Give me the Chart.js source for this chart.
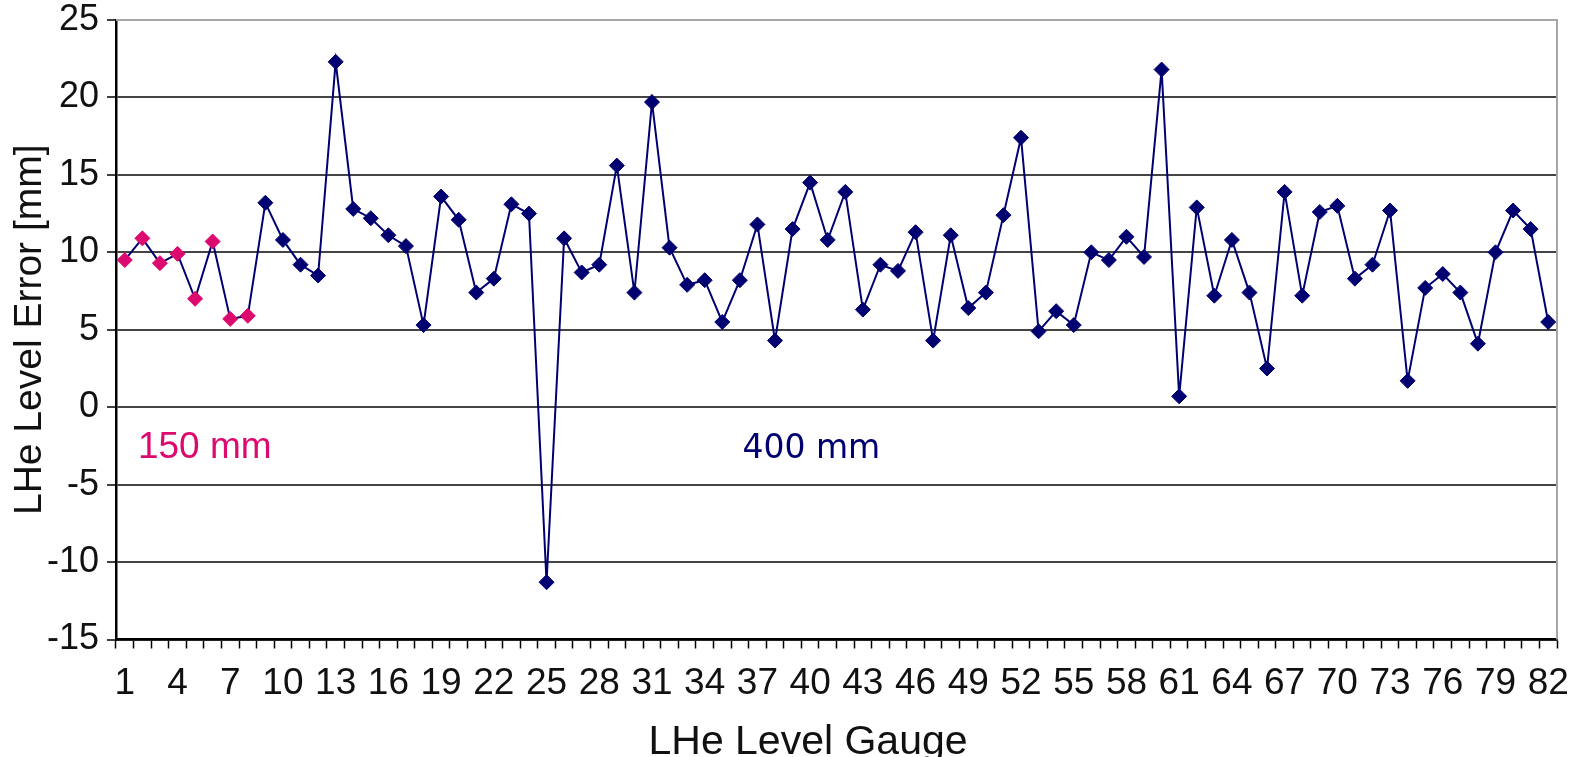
<!DOCTYPE html>
<html lang="en">
<head>
    <meta charset="UTF-8">
    <title>LHe Level Error</title>
    <script src="https://cdn.jsdelivr.net/npm/chart.js"></script>
    <style>
        html, body { margin: 0; padding: 0; background: #fff; overflow: hidden; }
        canvas { display: block; }
    </style>
</head>
<body>
    <canvas id="levelChart" width="1575" height="757"></canvas>

    <script>
        // gauge numbers on the x axis
        var gaugeIds = [
            1, 2, 3, 4, 5, 6, 7, 8, 9, 10, 11, 12, 13, 14, 15, 16, 17, 18, 19, 20,
            21, 22, 23, 24, 25, 26, 27, 28, 29, 30, 31, 32, 33, 34, 35, 36, 37, 38, 39, 40,
            41, 42, 43, 44, 45, 46, 47, 48, 49, 50, 51, 52, 53, 54, 55, 56, 57, 58, 59, 60,
            61, 62, 63, 64, 65, 66, 67, 68, 69, 70, 71, 72, 73, 74, 75, 76, 77, 78, 79, 80,
            81, 82
        ];

        // level error in mm, one value per gauge
        var levelError = [
            9.5, 10.9, 9.3, 9.9, 7.0, 10.7, 5.7, 5.9, 13.2, 10.8,
            9.2, 8.5, 22.3, 12.8, 12.2, 11.1, 10.4, 5.3, 13.6, 12.1,
            7.4, 8.3, 13.1, 12.5, -11.3, 10.9, 8.7, 9.2, 15.6, 7.4,
            19.7, 10.3, 7.9, 8.2, 5.5, 8.2, 11.8, 4.3, 11.5, 14.5,
            10.8, 13.9, 6.3, 9.2, 8.8, 11.3, 4.3, 11.1, 6.4, 7.4,
            12.4, 17.4, 4.9, 6.2, 5.3, 10.0, 9.5, 11.0, 9.7, 21.8,
            0.7, 12.9, 7.2, 10.8, 7.4, 2.5, 13.9, 7.2, 12.6, 13.0,
            8.3, 9.2, 12.7, 1.7, 7.7, 8.6, 7.4, 4.1, 10.0, 12.7,
            11.5, 5.5
        ];

        // the first gauges are the 150 mm type, the rest are 400 mm
        var gauge150Count = 8;

        var yTicks = [-15, -10, -5, 0, 5, 10, 15, 20, 25];

        var navy = '#000070';
        var pink = '#dc0a6e';

        var pointColors = levelError.map(function (v, i) {
            return i < gauge150Count ? pink : navy;
        });

        // labels written inside the plot
        var notes = [
            { text: '150 mm', x: 0.75, y: -3.3, color: pink, font: '37px "Liberation Sans", Arial, sans-serif' },
            { text: '400 mm', x: 35.15, y: -3.3, color: navy, font: '33px "DejaVu Sans", Verdana, sans-serif' }
        ];

        var notesPlugin = {
            id: 'notes',
            afterDatasetsDraw: function (chart) {
                var ctx = chart.ctx;
                var xs = chart.scales.x, ys = chart.scales.y;
                ctx.save();
                notes.forEach(function (n) {
                    ctx.font = n.font;
                    ctx.fillStyle = n.color;
                    ctx.textAlign = 'left';
                    ctx.textBaseline = 'alphabetic';
                    ctx.fillText(n.text, xs.getPixelForValue(n.x), ys.getPixelForValue(n.y));
                });
                ctx.restore();
            }
        };

        // gray frame on the right side of the plot
        var framePlugin = {
            id: 'frame',
            beforeDatasetsDraw: function (chart) {
                var a = chart.chartArea, ctx = chart.ctx;
                ctx.save();
                ctx.strokeStyle = '#a6a6a6';
                ctx.lineWidth = 2;
                ctx.beginPath();
                ctx.moveTo(a.left, a.top);
                ctx.lineTo(a.right, a.top);
                ctx.lineTo(a.right, a.bottom);
                ctx.stroke();
                ctx.restore();
            }
        };

        var fontFamily = '"Liberation Sans", Arial, sans-serif';

        var ctx = document.getElementById('levelChart').getContext('2d');
        var levelChart = new Chart(ctx, {
            type: 'line',
            data: {
                labels: gaugeIds,
                datasets: [{
                    data: levelError,
                    borderColor: navy,
                    borderWidth: 2,
                    pointStyle: 'rectRot',
                    pointRadius: 7.5,
                    pointBorderWidth: 1,
                    pointBackgroundColor: pointColors,
                    pointBorderColor: pointColors,
                    tension: 0,
                    fill: false
                }]
            },
            options: {
                responsive: false,
                animation: false,
                devicePixelRatio: 1,
                layout: { padding: { left: 0, right: 18, top: 20, bottom: 0 } },
                plugins: {
                    legend: { display: false },
                    tooltip: { enabled: false }
                },
                scales: {
                    x: {
                        type: 'category',
                        offset: true,
                        afterFit: function (s) {
                            s.height = 117.5;
                            s.paddingLeft = 0;
                            s.paddingRight = 0;
                        },
                        grid: {
                            offset: true,
                            drawOnChartArea: false,
                            drawTicks: true,
                            tickLength: 9,
                            tickColor: '#000',
                            tickWidth: 1.5
                        },
                        border: { color: '#000', width: 2.5 },
                        ticks: {
                            autoSkip: false,
                            maxRotation: 0,
                            minRotation: 0,
                            padding: 13,
                            color: '#111',
                            font: { family: fontFamily, size: 37 },
                            callback: function (val, i) {
                                return i % 3 === 0 ? gaugeIds[i] : '';
                            }
                        },
                        title: {
                            display: true,
                            text: 'LHe Level Gauge     ',
                            color: '#111',
                            font: { family: fontFamily, size: 41 },
                            padding: { top: 0, bottom: -10 }
                        }
                    },
                    y: {
                        min: -15,
                        max: 25,
                        afterFit: function (s) {
                            s.width = 116;
                            s.paddingTop = 0;
                            s.paddingBottom = 0;
                        },
                        afterBuildTicks: function (s) {
                            s.ticks = yTicks.map(function (v) { return { value: v }; });
                        },
                        grid: {
                            color: function (c) {
                                return c.tick && c.tick.value === 25 ? '#a6a6a6' : '#444';
                            },
                            lineWidth: 2,
                            tickLength: 9,
                            tickColor: '#000',
                            tickWidth: 1.5
                        },
                        border: { color: '#000', width: 2.5 },
                        ticks: {
                            padding: 8,
                            color: '#111',
                            font: { family: fontFamily, size: 36 }
                        },
                        title: {
                            display: true,
                            text: 'LHe Level Error [mm]',
                            color: '#111',
                            font: { family: fontFamily, size: 39 },
                            padding: { top: 7, bottom: 0 }
                        }
                    }
                }
            },
            plugins: [framePlugin, notesPlugin]
        });
    </script>
</body>
</html>
